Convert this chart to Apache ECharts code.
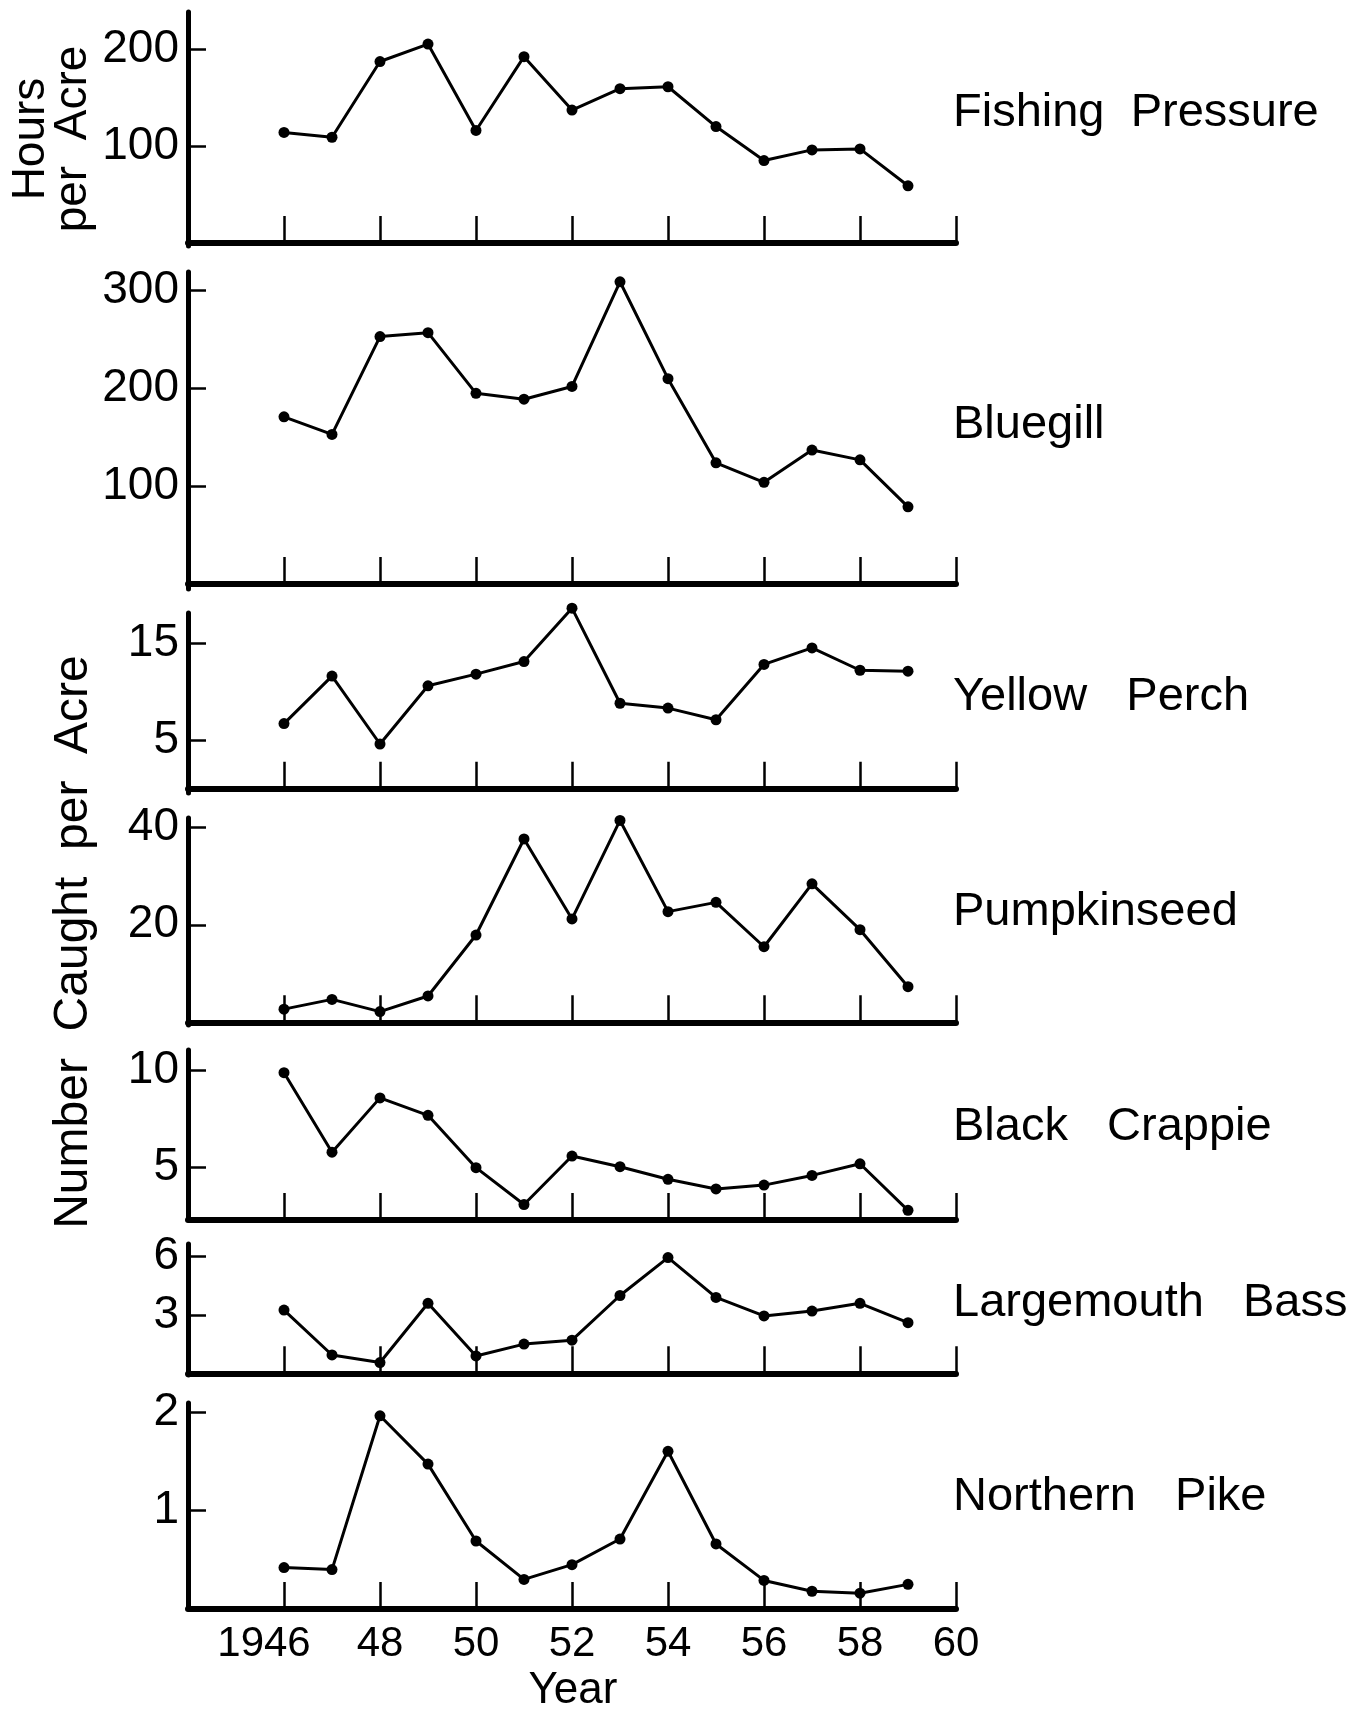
<!DOCTYPE html>
<html>
<head>
<meta charset="utf-8">
<script src="https://cdn.jsdelivr.net/npm/echarts@6/dist/echarts.min.js"></script>
<style>
html,body{margin:0;padding:0;background:#fff;}
#chart{width:1364px;height:1710px;}
</style>
</head>
<body>
<div id="chart"></div>
<script>
// ---- data ----
const years = [1946,1947,1948,1949,1950,1951,1952,1953,1954,1955,1956,1957,1958,1959];
const fishingPressure = [114,109,187,205,116,192,137,159,161,120,85,96,97,59];
const bluegill = [171,153,253,257,195,189,202,309,210,124,104,137,127,79];
const yellowPerch = [6.7,11.6,4.6,10.6,11.8,13.1,18.6,8.8,8.3,7.1,12.8,14.5,12.2,12.1];
const pumpkinseed = [2.7,4.7,2.2,5.4,17.9,37.6,21.2,41.4,22.7,24.6,15.5,28.4,19,7.3];
const blackCrappie = [9.9,5.8,8.6,7.7,5.0,3.1,5.6,5.05,4.4,3.9,4.1,4.6,5.2,2.8];
const largemouthBass = [3.25,0.94,0.55,3.6,0.89,1.5,1.7,4.0,5.95,3.9,2.95,3.2,3.6,2.6];
const northernPike = [0.42,0.40,1.96,1.47,0.69,0.30,0.45,0.71,1.6,0.66,0.29,0.18,0.16,0.25];
const panelNames = ['Fishing  Pressure','Bluegill','Yellow   Perch','Pumpkinseed','Black   Crappie','Largemouth   Bass','Northern   Pike'];
const yTickValues = [[100,200],[100,200,300],[5,15],[20,40],[5,10],[3,6],[1,2]];
const xTickValues = [1946,1948,1950,1952,1954,1956,1958,1960];
const xTickLabels = ['1946','48','50','52','54','56','58','60'];
const xTitle = 'Year';
const yTitleTop = 'Hours\nper  Acre';
const yTitleMain = 'Number  Caught  per  Acre';

const seriesValues = [fishingPressure,bluegill,yellowPerch,pumpkinseed,blackCrappie,largemouthBass,northernPike];

// ---- layout ----
const FONT = "'Liberation Sans', Arial, Helvetica, sans-serif";
const layout = [
  {top:12,   height:234, min:-3,    max:238},
  {top:272,  height:317, min:-5,    max:319},
  {top:613,  height:180, min:-0.45, max:18.1},
  {top:818,  height:207, min:-0.55, max:41.9},
  {top:1050, height:170, min:2.3,   max:11.07},
  {top:1244, height:131, min:-0.09, max:6.65},
  {top:1403, height:206, min:0,     max:2.09}
];
const labelY = [110, 422, 694, 909, 1124, 1300, 1494];
const GL = 188, GW = 768;

const grids = [], xAxes = [], yAxes = [], series = [], graphics = [];
layout.forEach((p, i) => {
  const last = i === layout.length - 1;
  grids.push({left: GL, width: GW, top: p.top, height: p.height, containLabel: false});
  xAxes.push({
    type: 'value', gridIndex: i, min: 1944, max: 1960,
    axisLine: {show: true, lineStyle: {color: '#000', width: 6}},
    axisTick: {show: true, inside: true, length: 27, lineStyle: {color: '#000', width: 2.5}, customValues: xTickValues},
    axisLabel: {
      show: last, margin: 14, color: '#000', fontSize: 42, fontFamily: FONT, lineHeight: 42,
      customValues: xTickValues,
      formatter: function (v) {
        const k = xTickValues.indexOf(v);
        if (k < 0) return '';
        if (k === 0) return '{a|' + xTickLabels[k] + '}';
        return xTickLabels[k];
      },
      rich: {a: {fontSize: 42, fontFamily: FONT, color: '#000', lineHeight: 42, padding: [0, 40, 0, 0]}}
    },
    splitLine: {show: false}
  });
  yAxes.push({
    type: 'value', gridIndex: i, min: p.min, max: p.max,
    axisLine: {show: true, lineStyle: {color: '#000', width: 5}},
    axisTick: {show: true, inside: true, length: 18, lineStyle: {color: '#000', width: 2.5}, customValues: yTickValues[i]},
    axisLabel: {show: true, margin: 9, color: '#000', fontSize: 46, fontFamily: FONT, customValues: yTickValues[i]},
    splitLine: {show: false}
  });
  series.push({
    type: 'line', xAxisIndex: i, yAxisIndex: i,
    data: years.map((y, j) => [y, seriesValues[i][j]]),
    symbol: 'circle', symbolSize: 11, showSymbol: true, clip: false,
    lineStyle: {color: '#000', width: 3},
    itemStyle: {color: '#000'},
    animation: false
  });
  graphics.push({
    type: 'text', x: 953, y: labelY[i] + 3,
    style: {text: panelNames[i], fill: '#000', font: '47px ' + FONT, align: 'left', verticalAlign: 'middle'}
  });
});

graphics.push({
  type: 'text', x: 573, y: 1691,
  style: {text: xTitle, fill: '#000', font: '44px ' + FONT, align: 'center', verticalAlign: 'middle'}
});
graphics.push({
  type: 'text', x: 52, y: 139, rotation: Math.PI / 2,
  style: {text: yTitleTop, fill: '#000', font: '46px ' + FONT, align: 'center', verticalAlign: 'middle', lineHeight: 42}
});
graphics.push({
  type: 'text', x: 74, y: 942, rotation: Math.PI / 2,
  style: {text: yTitleMain, fill: '#000', font: '48px ' + FONT, align: 'center', verticalAlign: 'middle'}
});

const chart = echarts.init(document.getElementById('chart'), null, {renderer: 'canvas'});
chart.setOption({
  backgroundColor: '#fff',
  animation: false,
  grid: grids,
  xAxis: xAxes,
  yAxis: yAxes,
  series: series,
  graphic: graphics
});
</script>
</body>
</html>
